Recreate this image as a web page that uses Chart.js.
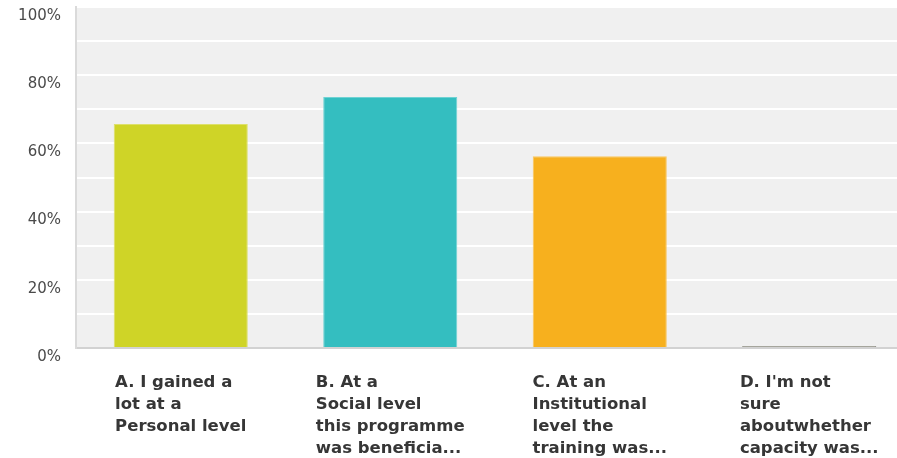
<!DOCTYPE html>
<html>
<head>
<meta charset="utf-8">
<script src="https://cdn.jsdelivr.net/npm/chart.js@4"></script>
<style>
  html, body { margin: 0; padding: 0; background: #fff; overflow: hidden; }
  canvas { display: block; }
</style>
</head>
<body>
<canvas id="answerChart" width="914" height="458"></canvas>
<script>
    // --- Chart data ---
    const categories = [
        ['A. I gained a', 'lot at a', 'Personal level'],
        ['B. At a', 'Social level', 'this programme', 'was beneficia...'],
        ['C. At an', 'Institutional', 'level the', 'training was...'],
        ['D. I\'m not', 'sure', 'aboutwhether', 'capacity was...']
    ];
    const percentValues = [65.7, 73.6, 56.2, 0];
    const barColors = ['#cfd427', '#34bec0', '#f7b01e', '#8c8c80'];
    const barEdgeColors = ['#dde06a', '#6fd2d3', '#f9c65e', '#8c8c80'];
    const yTickLabels = ['0%', '20%', '40%', '60%', '80%', '100%'];

    // plot background
    const plotBackground = {
        id: 'plotBackground',
        beforeDraw(chart) {
            const { ctx, chartArea } = chart;
            ctx.save();
            ctx.fillStyle = '#f0f0f0';
            ctx.fillRect(chartArea.left, chartArea.top, chartArea.right - chartArea.left, chartArea.bottom - chartArea.top);
            ctx.restore();
        }
    };

    // category labels: left aligned block, centred under each bar
    const blockLabels = {
        id: 'blockLabels',
        afterDraw(chart) {
            const { ctx, chartArea } = chart;
            const xScale = chart.scales.x;
            ctx.save();
            ctx.font = 'bold 16.5px "DejaVu Sans"';
            ctx.fillStyle = '#363636';
            ctx.textAlign = 'left';
            ctx.textBaseline = 'alphabetic';
            categories.forEach((lines, i) => {
                const center = xScale.getPixelForValue(i);
                const widest = Math.max(...lines.map(l => ctx.measureText(l).width));
                const left = center - widest / 2;
                lines.forEach((line, j) => {
                    ctx.fillText(line, left, chartArea.bottom + 39 + j * 22);
                });
            });
            ctx.restore();
        }
    };

    const ctx = document.getElementById('answerChart').getContext('2d');

    new Chart(ctx, {
        type: 'bar',
        data: {
            labels: categories.map(c => c.join(' ')),
            datasets: [{
                data: percentValues,
                backgroundColor: barColors,
                borderColor: barEdgeColors,
                borderWidth: 1,
                minBarLength: 2,
                categoryPercentage: 1,
                barPercentage: 0.64
            }]
        },
        options: {
            responsive: false,
            animation: false,
            devicePixelRatio: 1,
            layout: { padding: { top: 7, left: 0, right: 0, bottom: 0 } },
            plugins: {
                legend: { display: false },
                tooltip: { enabled: false }
            },
            scales: {
                x: {
                    grid: { display: true, drawOnChartArea: false, drawTicks: false },
                    border: { display: true, color: '#d2d2d2', width: 2 },
                    ticks: { display: false },
                    afterFit(scale) {
                        scale.height = 110;
                        scale.paddingLeft = 0;
                        scale.paddingRight = 0;
                    }
                },
                y: {
                    min: 0,
                    max: 100,
                    grid: { color: '#ffffff', lineWidth: 2, drawTicks: false },
                    border: { display: true, color: '#dadada', width: 2 },
                    ticks: {
                        stepSize: 10,
                        padding: 15,
                        labelOffset: 9,
                        color: '#4a4a4a',
                        font: { family: '"DejaVu Sans"', size: 15 },
                        callback: v => (v % 20 === 0 ? yTickLabels[v / 20] : '')
                    },
                    afterFit(scale) {
                        scale.width = 76;
                        scale.paddingTop = 0;
                        scale.paddingBottom = 0;
                    }
                }
            }
        },
        plugins: [plotBackground, blockLabels]
    });
</script>
</body>
</html>
